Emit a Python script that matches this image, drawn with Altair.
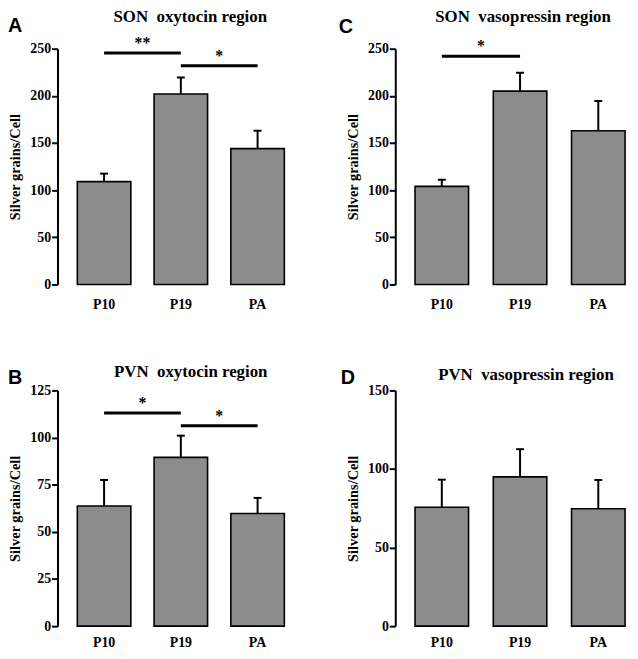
import altair as alt
import pandas as pd

groups = ["P10", "P19", "PA"]
panel_letters = ["A", "C", "B", "D"]
panel_titles = ["SON\u00a0 oxytocin region", "SON\u00a0 vasopressin region",
                "PVN\u00a0 oxytocin region", "PVN\u00a0 vasopressin region"]
means = [[109, 202, 144], [104, 205, 163], [63.7, 89.5, 59.7], [75.7, 95, 74.7]]
err_tops = [[117.5, 219.5, 163], [111, 224.5, 194.5], [77.5, 101, 68], [93.2, 112.6, 93]]
y_max = [250, 250, 125, 150]
y_step = [50, 50, 25, 50]
sig_from = [["P10", "P19"], ["P10"], ["P10", "P19"], []]
sig_to = [["P19", "PA"], ["P19"], ["P19", "PA"], []]
sig_y = [[245.5, 232], [242], [113, 106.3], []]
sig_label = [["**", "*"], ["*"], ["*", "*"], []]

# layout / style per panel
widths = [249, 237, 249, 237]
pad_inner = [0.303, 0.316, 0.303, 0.316]
pad_outer = [0.258, 0.158, 0.258, 0.158]
band_align = [0.5, 0.8, 0.5, 0.8]
half_step = [38.75, 39.5, 38.75, 39.5]
title_x = [134, 129, 134.5, 132]
title_y = [-27, -27, -14, -11]
letter_x = [-50, -57, -50, -55]
letter_y = [-17, -16, -6, -6]
x_label_pad = [13, 13, 10, 10]
H = 238

SERIF = "Liberation Serif"
SANS = "Liberation Sans"


def panel(i):
    df = pd.DataFrame({"group": groups, "mean": means[i], "top": err_tops[i]})
    xscale = alt.Scale(domain=groups, paddingInner=pad_inner[i],
                       paddingOuter=pad_outer[i], align=band_align[i])
    xaxis = alt.Axis(title=None, labelAngle=0, domain=False, ticks=False,
                     labelPadding=x_label_pad[i], labelFont=SERIF, labelFontSize=14,
                     labelFontWeight="bold", labelColor="black")
    yaxis = alt.Axis(title="Silver grains/Cell",
                     values=list(range(0, y_max[i] + 1, y_step[i])),
                     grid=False, domainColor="black", domainWidth=2,
                     tickColor="black", tickWidth=2, tickSize=6,
                     labelPadding=1, labelFont=SERIF, labelFontSize=14,
                     labelFontWeight="bold", labelColor="black",
                     titleFont=SERIF, titleFontSize=14.5, titleFontWeight="bold",
                     titleColor="black", titlePadding=7)
    yscale = alt.Scale(domain=[0, y_max[i]], nice=False, zero=True)

    bars = alt.Chart(df).mark_bar(fill="#8c8c8c", stroke="black", strokeWidth=1.6).encode(
        x=alt.X("group:N", scale=xscale, sort=groups, axis=xaxis),
        y=alt.Y("mean:Q", scale=yscale, axis=yaxis),
    )
    err = alt.Chart(df).mark_rule(color="black", strokeWidth=2).encode(
        x=alt.X("group:N", sort=groups),
        y=alt.Y("mean:Q", axis=yaxis),
        y2="top:Q",
    )
    cap = alt.Chart(df).mark_tick(color="black", size=8, thickness=2, opacity=1).encode(
        x=alt.X("group:N", sort=groups),
        y=alt.Y("top:Q", axis=yaxis),
    )
    layers = [bars, err, cap]

    if sig_y[i]:
        sdf = pd.DataFrame({"from": sig_from[i], "to": sig_to[i],
                            "y": sig_y[i], "label": sig_label[i]})
        srule = alt.Chart(sdf).mark_rule(color="black", strokeWidth=3).encode(
            x=alt.X("from:N", sort=groups),
            x2="to:N",
            y=alt.Y("y:Q", axis=yaxis),
        )
        stext = alt.Chart(sdf).mark_text(font=SERIF, fontSize=16, fontWeight="bold",
                                         color="black", dx=half_step[i], dy=-5,
                                         baseline="alphabetic").encode(
            x=alt.X("from:N", sort=groups),
            y=alt.Y("y:Q", axis=yaxis),
            text="label:N",
        )
        layers += [srule, stext]

    tdf = pd.DataFrame({"title": [panel_titles[i]], "letter": [panel_letters[i]]})
    title = alt.Chart(tdf).mark_text(font=SERIF, fontSize=17, fontWeight="bold",
                                     color="black", align="center",
                                     baseline="alphabetic").encode(
        text="title:N", x=alt.value(title_x[i]), y=alt.value(title_y[i]))
    letter = alt.Chart(tdf).mark_text(font=SANS, fontSize=20, fontWeight="bold",
                                      color="black", align="left",
                                      baseline="alphabetic").encode(
        text="letter:N", x=alt.value(letter_x[i]), y=alt.value(letter_y[i]))
    layers += [title, letter]

    return alt.layer(*layers).properties(width=widths[i], height=H)


chart = alt.concat(
    *[panel(i) for i in range(4)],
    columns=2,
    spacing={"row": 107, "column": 92},
    bounds="flush",
).properties(
    padding={"top": -3, "bottom": -2, "left": 0, "right": 0},
    background="white",
).configure_view(stroke=None)

chart.save("out.html", embed_options={"renderer": "svg", "actions": False})
